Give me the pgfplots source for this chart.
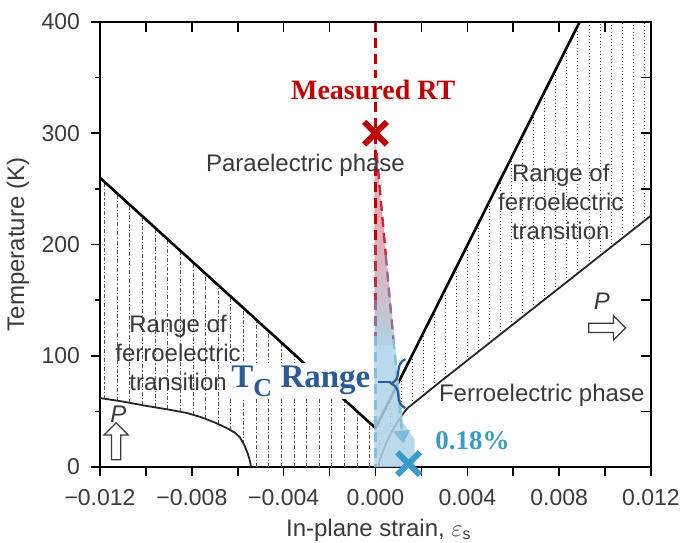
\documentclass[border=0pt]{standalone}
\usepackage{pgfplots}
\pgfplotsset{compat=1.18}
\usepackage{fontspec}
\setmainfont{Liberation Sans}
\newfontfamily\tnr{Liberation Serif}
\usetikzlibrary{arrows.meta,decorations.pathreplacing,shapes.arrows}
\definecolor{rtred}{HTML}{C00000}
\definecolor{tcblue}{HTML}{2A5B98}
\definecolor{ltblue}{HTML}{3A9CC6}
\definecolor{shblue}{RGB}{174,212,231}
\definecolor{bA}{RGB}{235,169,179}
\definecolor{bB}{RGB}{228,174,185}
\definecolor{bC}{RGB}{220,180,192}
\definecolor{bD}{RGB}{212,185,199}
\definecolor{bE}{RGB}{205,190,205}
\definecolor{bF}{RGB}{197,196,211}
\definecolor{bG}{RGB}{189,201,218}
\definecolor{bH}{RGB}{181,207,225}
\definecolor{txt}{HTML}{3A3A3A}
\definecolor{dsred}{HTML}{C42A3E}
\definecolor{dsred2}{HTML}{B0304A}
\definecolor{dsmid}{HTML}{9A6C8C}
\definecolor{dsblue}{HTML}{86BEDC}
\definecolor{arrblue}{HTML}{7DBCDB}
\begin{document}
\begin{tikzpicture}
\useasboundingbox (-50pt,-37.5pt) rectangle (290.5pt,233.5pt);
\begin{axis}[
  at={(0,0)}, anchor=south west,
  scale only axis, width=275.5pt, height=222.5pt,
  xmin=-0.012, xmax=0.012, ymin=0, ymax=400,
  clip=false, unbounded coords=jump,
  axis line style={line width=1pt, black},
  tick align=outside, tick pos=left,
  xtick={-0.012,-0.010,-0.008,-0.006,-0.004,-0.002,0,0.002,0.004,0.006,0.008,0.010,0.012},
  xticklabels={−0.012,,−0.008,,−0.004,,0.000,,0.004,,0.008,,0.012},
  scaled x ticks=false,
  ytick={0,100,200,300,400}, yticklabels={0,100,200,300,400},
  minor ytick={50,150,250,350},
  major tick length=4.5pt, minor tick length=2.5pt,
  tick style={line width=0.8pt, black},
  /pgf/number format/assume math mode=true,
  ticklabel style={font=\fontsize{11.5}{13}\selectfont, text=txt},
  yticklabel style={xshift=-2pt},
  xticklabel style={yshift=-3pt},
  xlabel={In-plane strain, $\varepsilon$\textsubscript{s}},
  ylabel={Temperature (K)},
  xlabel style={at={(axis description cs:0.506,-0.1416)}, anchor=center, font=\fontsize{12}{14}\selectfont, text=txt},
  ylabel style={at={(axis description cs:-0.149,0.5)}, anchor=center, font=\fontsize{12}{14}\selectfont, text=txt},
]
% left hatching (dash-dot)
\addplot[draw=black!65, line width=0.4pt, dash pattern=on 2pt off 1pt on 0.6pt off 1pt] coordinates {
(-0.0118,61.3) (-0.0118,256.3) (-0.0118,nan)
(-0.01125,59.4) (-0.01125,245.9) (-0.01125,nan)
(-0.0107,57.5) (-0.0107,235.6) (-0.0107,nan)
(-0.01015,55.5) (-0.01015,225.3) (-0.01015,nan)
(-0.0096,53.6) (-0.0096,215.0) (-0.0096,nan)
(-0.00905,51.8) (-0.00905,204.7) (-0.00905,nan)
(-0.0085,49.7) (-0.0085,194.4) (-0.0085,nan)
(-0.00795,47.0) (-0.00795,184.1) (-0.00795,nan)
(-0.0074,43.2) (-0.0074,173.75) (-0.0074,nan)
(-0.00685,38.6) (-0.00685,163.4) (-0.00685,nan)
(-0.0063,32.9) (-0.0063,153.1) (-0.0063,nan)
(-0.00575,20.9) (-0.00575,142.8) (-0.00575,nan)
(-0.0052,0) (-0.0052,132.5) (-0.0052,nan)
(-0.00465,0) (-0.00465,122.2) (-0.00465,nan)
(-0.0041,0) (-0.0041,111.9) (-0.0041,nan)
(-0.00355,0) (-0.00355,101.6) (-0.00355,nan)
(-0.003,0) (-0.003,91.25) (-0.003,nan)
(-0.00245,0) (-0.00245,80.9) (-0.00245,nan)
(-0.0019,0) (-0.0019,70.6) (-0.0019,nan)
(-0.00135,0) (-0.00135,60.3) (-0.00135,nan)
(-0.0008,0) (-0.0008,50.0) (-0.0008,nan)
(-0.00025,0) (-0.00025,39.7)
};
% right hatching (dotted)
\addplot[draw=black!70, line width=0.5pt, dash pattern=on 0.5pt off 1.2pt] coordinates {
(0.0117,221.1) (0.0117,400) (0.0117,nan)
(0.01122,213.3) (0.01122,400) (0.01122,nan)
(0.01074,205.5) (0.01074,400) (0.01074,nan)
(0.01026,197.7) (0.01026,400) (0.01026,nan)
(0.00978,189.9) (0.00978,400) (0.00978,nan)
(0.0093,182.1) (0.0093,400) (0.0093,nan)
(0.00882,174.3) (0.00882,396.6) (0.00882,nan)
(0.00834,166.4) (0.00834,376.9) (0.00834,nan)
(0.00786,158.6) (0.00786,357.3) (0.00786,nan)
(0.00738,150.8) (0.00738,337.6) (0.00738,nan)
(0.0069,143.0) (0.0069,317.9) (0.0069,nan)
(0.00642,135.2) (0.00642,298.2) (0.00642,nan)
(0.00594,127.4) (0.00594,278.5) (0.00594,nan)
(0.00546,119.6) (0.00546,258.9) (0.00546,nan)
(0.00498,111.8) (0.00498,239.2) (0.00498,nan)
(0.0045,104.0) (0.0045,219.5) (0.0045,nan)
(0.00402,96.2) (0.00402,199.8) (0.00402,nan)
(0.00354,88.4) (0.00354,180.1) (0.00354,nan)
(0.00306,80.5) (0.00306,160.5) (0.00306,nan)
(0.00258,72.7) (0.00258,140.8) (0.00258,nan)
(0.0021,64.7) (0.0021,121.1) (0.0021,nan)
(0.00162,56.7) (0.00162,101.4) (0.00162,nan)
(0.00114,46.2) (0.00114,81.7) (0.00114,nan)
(0.00066,29.6) (0.00066,62.1) (0.00066,nan)
(0.00018,5.3) (0.00018,42.4)
};
% phase boundaries
\addplot[black, line width=1.3pt] coordinates {(-0.012,260) (0,35) (0.00889,400)};
\addplot[black!85, line width=0.9pt] coordinates {(-0.012,62) (-0.011,58.8) (-0.010,55) (-0.009,51.6) (-0.0082,48.5) (-0.0076,44.8) (-0.007,40) (-0.0065,35.3) (-0.0061,30.5) (-0.0059,26.5) (-0.0057,19) (-0.0056,14) (-0.0055,8) (-0.00545,3.5) (-0.00543,0)};
\addplot[black!85, line width=0.9pt] coordinates {(0.00013,0) (0.00016,4) (0.00022,8) (0.0003,12.5) (0.0004,18) (0.0005,23) (0.00065,29.5) (0.0008,35) (0.00095,40.3) (0.0011,45) (0.00125,49.3) (0.0014,53) (0.00275,75.5) (0.012,226)};
% shaded wedge (pink to blue bands)
\addplot[draw=none, fill=bA] coordinates {(-0.00005,300) (0.000353,215) (0.000356,214.4) (-0.00005,214.4)} -- cycle;
\addplot[draw=none, fill=bB] coordinates {(-0.00005,215) (0.000353,215) (0.000447,195) (0.00045,194.4) (-0.00005,194.4)} -- cycle;
\addplot[draw=none, fill=bC] coordinates {(-0.00005,195) (0.000447,195) (0.000528,178) (0.000531,177.4) (-0.00005,177.4)} -- cycle;
\addplot[draw=none, fill=bD] coordinates {(-0.00005,178) (0.000528,178) (0.000604,162) (0.000607,161.4) (-0.00005,161.4)} -- cycle;
\addplot[draw=none, fill=bE] coordinates {(-0.00005,162) (0.000604,162) (0.00067,148) (0.000673,147.4) (-0.00005,147.4)} -- cycle;
\addplot[draw=none, fill=bF] coordinates {(-0.00005,148) (0.00067,148) (0.000727,136) (0.00073,135.4) (-0.00005,135.4)} -- cycle;
\addplot[draw=none, fill=bG] coordinates {(-0.00005,136) (0.000727,136) (0.000784,124) (0.000787,123.4) (-0.00005,123.4)} -- cycle;
\addplot[draw=none, fill=bH] coordinates {(-0.00005,124) (0.000784,124) (0.00085,110) (0.000853,109.4) (-0.00005,109.4)} -- cycle;
\addplot[draw=none, fill=shblue, fill opacity=0.85] coordinates {(-0.00005,110) (0.00085,110) (0.0012,40) (0.0017,25) (0.0017,0) (-0.00005,0)} -- cycle;
% dashed guide lines
\addplot[rtred, line width=1.2pt, dash pattern=on 5pt off 3pt] coordinates {(0,400) (0,200)};
\addplot[dsred2, line width=1.2pt, dash pattern=on 5pt off 3pt] coordinates {(0,200) (0,150)};
\addplot[dsmid, line width=1.2pt, dash pattern=on 5pt off 3pt] coordinates {(0,150) (0,118)};
\addplot[dsblue, line width=1.2pt, dash pattern=on 5pt off 3pt] coordinates {(0,118) (0,0)};
\addplot[dsred, line width=1.2pt, dash pattern=on 5pt off 3pt] coordinates {(0.00005,282) (0.00045,190)};
\addplot[dsmid, line width=1.2pt, dash pattern=on 5pt off 3pt] coordinates {(0.00045,190) (0.00078,115)};
\addplot[dsblue, line width=1.2pt, dash pattern=on 5pt off 3pt, -{Triangle[width=8pt,length=6.5pt,fill=arrblue,color=arrblue]}] coordinates {(0.00078,115) (0.0012,21)};
% markers
\addplot[only marks, mark=x, mark size=8pt, rtred, mark options={line width=3pt}] coordinates {(0,300)};
\addplot[only marks, mark=x, mark size=8pt, ltblue, mark options={line width=3pt}] coordinates {(0.00144,3)};
% annotations
\node[fill=white, inner sep=1pt, text=tcblue, anchor=east, font=\tnr\bfseries\fontsize{16.5}{18}\selectfont] at (axis cs:-0.00012,77) {T\raisebox{-0.3em}{\fontsize{13}{14}\selectfont C} Range};
\draw[tcblue, line width=1pt] (axis cs:0.0001,76) -- (axis cs:0.00066,76);
\draw[tcblue, line width=1.1pt, decorate, decoration={brace, amplitude=7pt}] (axis cs:0.0013,53) -- (axis cs:0.0013,97);
\node[fill=white, inner sep=1pt, text=rtred, font=\tnr\bfseries\fontsize{14}{16}\selectfont] at (axis cs:-0.0001,339) {Measured RT};
\node[text=ltblue, anchor=west, font=\tnr\bfseries\fontsize{13.5}{15}\selectfont] at (axis cs:0.0023,24) {0.18\%};
\node[text=txt, font=\fontsize{12}{14}\selectfont] at (axis cs:-0.00305,271.5) {Paraelectric phase};
\node[text=txt, font=\fontsize{12}{14}\selectfont] at (axis cs:0.00724,64.7) {Ferroelectric phase};
\node[text=txt, align=center, font=\fontsize{12}{14.5}\selectfont] at (axis cs:-0.0086,102.5) {Range of\\ferroelectric\\transition};
\node[text=txt, align=center, font=\fontsize{12}{14.5}\selectfont] at (axis cs:0.00807,238) {Range of\\ferroelectric\\transition};
\node[text=txt, font=\itshape\fontsize{12}{14}\selectfont] at (axis cs:-0.0112,47) {P};
\node[text=txt, font=\itshape\fontsize{12}{14}\selectfont] at (axis cs:0.00986,149) {P};
\node[single arrow, draw=txt, fill=white, line width=0.6pt, inner sep=2pt, minimum height=18.5pt, single arrow head extend=3.75pt, shape border rotate=90] at (axis cs:-0.0113,21) {};
\node[single arrow, draw=txt, fill=white, line width=0.6pt, inner sep=2pt, minimum height=18.5pt, single arrow head extend=3.75pt] at (axis cs:0.00999,125) {};
\end{axis}
\begin{axis}[
  at={(0,0)}, anchor=south west,
  scale only axis, width=275.5pt, height=222.5pt,
  xmin=-0.012, xmax=0.012, ymin=0, ymax=400,
  axis line style={draw=none},
  tick align=inside, tick pos=right,
  xtick={-0.010,-0.008,-0.006,-0.004,-0.002,0,0.002,0.004,0.006,0.008,0.010},
  ytick={50,100,150,200,250,300,350},
  xticklabels={}, yticklabels={},
  scaled x ticks=false,
  major tick length=5pt,
  tick style={line width=0.8pt, black},
]
\addplot[draw=none] coordinates {(0,0)};
\end{axis}
\end{tikzpicture}
\end{document}
